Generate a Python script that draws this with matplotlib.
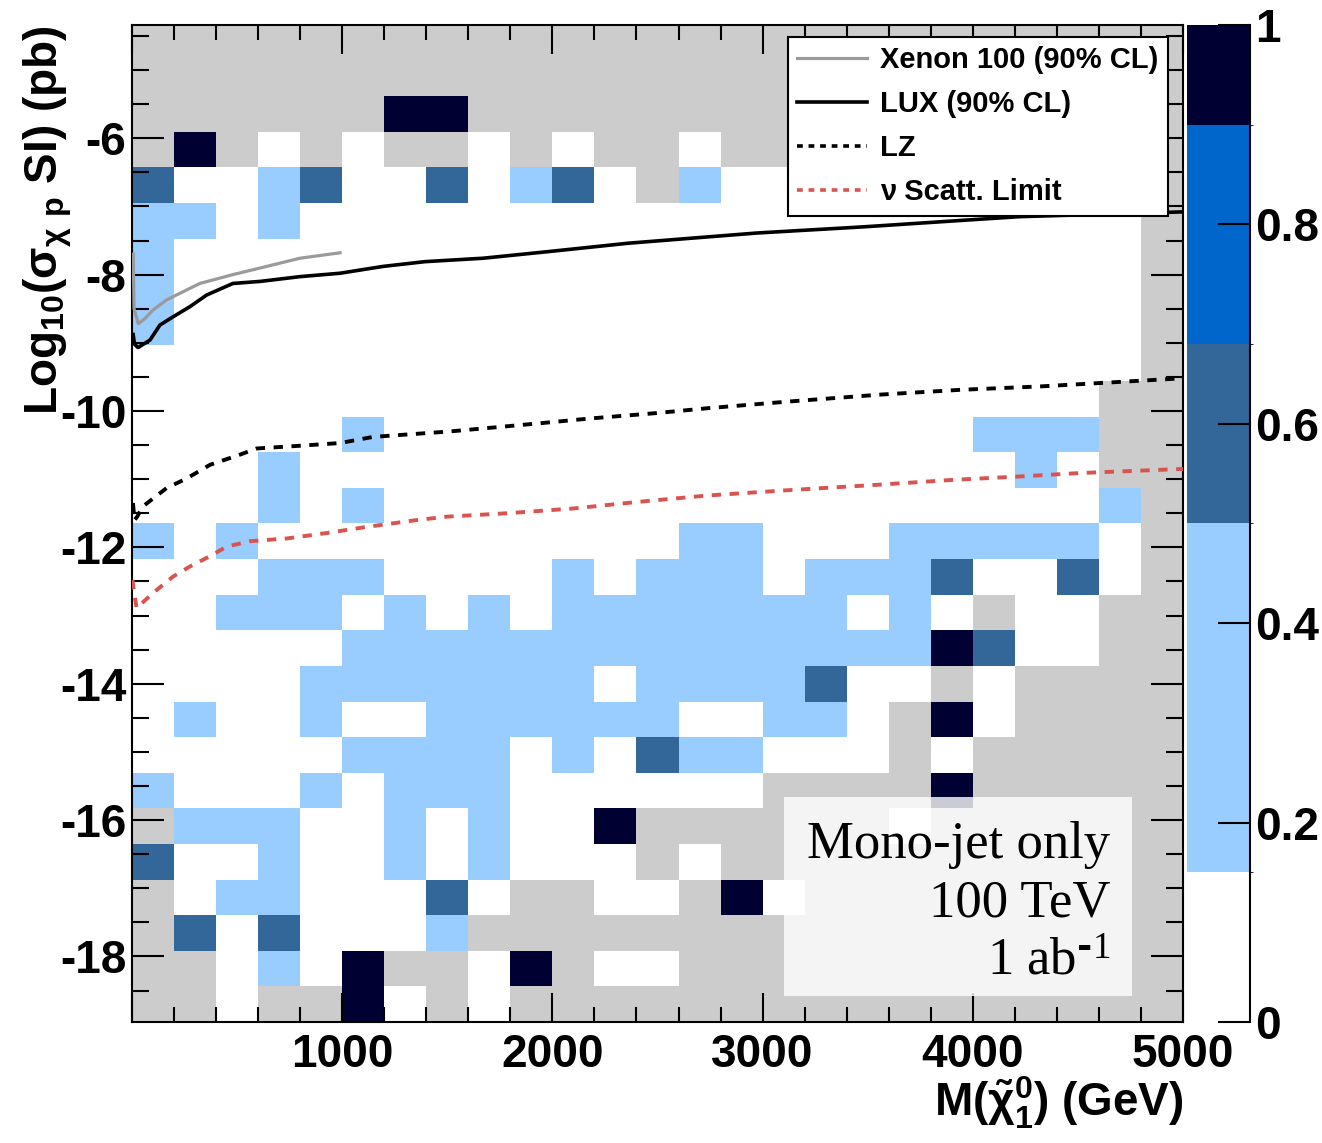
import numpy as np
import matplotlib
matplotlib.use("Agg")
import matplotlib.pyplot as plt
from matplotlib.colors import ListedColormap, BoundaryNorm
from matplotlib.lines import Line2D
from matplotlib.patches import Rectangle
from matplotlib.ticker import MultipleLocator, FuncFormatter

plt.rcParams["font.family"] = ["Liberation Sans", "DejaVu Sans"]
plt.rcParams["font.weight"] = "bold"
plt.rcParams["mathtext.default"] = "regular"
plt.rcParams["axes.unicode_minus"] = False

# ------------------------------------------------------------
# Data: fraction of points per cell (G = no point, grey)
# rows listed from top (high cross-section) to bottom
# ------------------------------------------------------------
mass_edges = np.linspace(0, 5000, 26)
xsec_edges = np.linspace(-18.96, -4.34, 29)

cell_rows = [
    "GGGGGGGGGGGGGGGGGGGGGGGGG",
    "GGGGGGGGGGGGGGGGGGGGGGGGG",
    "GGGGGGDDGGGGGGGGGGGGGGGGG",
    "GDGWGWGGWGWGGWGGGGGGGGGGG",
    "MWWLMWWMWLMWGLWWWWWWWWWWG",
    "LLWLWWWWWWWWWWWWWWWWWWWWG",
    "LWWWWWWWWWWWWWWWWWWWWWWWG",
    "LWWWWWWWWWWWWWWWWWWWWWWWG",
    "LWWWWWWWWWWWWWWWWWWWWWWWG",
    "WWWWWWWWWWWWWWWWWWWWWWWWG",
    "WWWWWWWWWWWWWWWWWWWWWWWGG",
    "WWWWWLWWWWWWWWWWWWWWLLLGG",
    "WWWLWWWWWWWWWWWWWWWWWLWGG",
    "WWWLWLWWWWWWWWWWWWWWWWWLG",
    "LWLWWWWWWWWWWLLWWWLLLLLWG",
    "WWWLLLWWWWLWLLLWLLLMWWMWG",
    "WWLLLWLWLWLLLLLLLWLWGWWGG",
    "WWWWWLLLLLLLLLLLLLLDMWWGG",
    "WWWWLLLLLLLWLLLLMWWGWGGGG",
    "WLWWLWWLLLLLLWWLLWGDWGGGG",
    "WWWWWLLLLWLWMLLWWWGWGGGGG",
    "LWWWLWLLLWWWWWWGGGGDGGGGG",
    "GLLLWWLWLWWDGGGGGGWGGGGGG",
    "MWWLWWLWLWWWGWGGGGGGGGGGG",
    "GWLLWWWMWGGWWGDWGGGGGGGGG",
    "GMWMWWWLGGGGGGGGGGGGGGGGG",
    "GGWLWDGGWDGWWGGGGGGGGGGGG",
    "GGWGGDWGWGGGGGGGGGGGGGGGG",
]
cell_value = {"W": 0.07, "L": 0.30, "M": 0.60, "B": 0.80, "D": 0.95}

level_bounds = [0.0, 0.15, 0.50, 0.68, 0.90, 1.0]
level_colors = ["#ffffff", "#99ccff", "#336699", "#0066cc", "#000033"]

# ------------------------------------------------------------
# Direct-detection limits: mass (GeV), log10(sigma_SI / pb)
# ------------------------------------------------------------
xenon_mass = [6, 10, 30, 60, 100, 165, 323, 480, 641, 799, 990]
xenon_xsec = [-7.70, -8.50, -8.72, -8.65, -8.52, -8.37, -8.13, -8.00, -7.88, -7.76, -7.68]

lux_mass = [6, 12, 29, 86, 133, 195, 276, 355, 480, 609, 799, 990, 1194, 1394,
            1670, 1989, 2360, 2645, 2973, 3478, 3972, 4224, 5000]
lux_xsec = [-8.88, -9.02, -9.07, -8.96, -8.74, -8.62, -8.47, -8.30, -8.13, -8.10,
            -8.03, -7.98, -7.88, -7.81, -7.76, -7.66, -7.54, -7.47, -7.39, -7.30,
            -7.20, -7.15, -7.08]

lz_mass = [5, 12, 25, 52, 165, 260, 371, 514, 593, 799, 990, 1147, 1513, 1941,
           2179, 2498, 2736, 3130, 3559, 3939, 4320, 4605, 5000]
lz_xsec = [-11.35, -11.60, -11.55, -11.40, -11.13, -10.99, -10.79, -10.64, -10.55,
           -10.51, -10.47, -10.38, -10.30, -10.18, -10.11, -10.03, -9.96, -9.86,
           -9.76, -9.69, -9.64, -9.59, -9.52]

nu_mass = [2, 22, 100, 195, 276, 371, 450, 561, 736, 926, 1117, 1354, 1497, 1783,
           2098, 2417, 2736, 3130, 3559, 3906, 4225, 4510, 5000]
nu_xsec = [-12.48, -12.89, -12.67, -12.43, -12.28, -12.13, -11.99, -11.91, -11.87,
           -11.79, -11.70, -11.60, -11.55, -11.50, -11.43, -11.33, -11.24, -11.16,
           -11.08, -11.01, -10.96, -10.91, -10.85]

# ------------------------------------------------------------
# Figure
# ------------------------------------------------------------
fig = plt.figure(figsize=(13.22, 11.43), dpi=100)
ax = fig.add_axes([0.0998, 0.1059, 0.7951, 0.8722])
cax = fig.add_axes([0.8981, 0.1059, 0.0474, 0.8722])

z = np.full((len(cell_rows), len(cell_rows[0])), np.nan)
for i, row in enumerate(cell_rows[::-1]):
    for j, code in enumerate(row):
        if code in cell_value:
            z[i, j] = cell_value[code]

cmap = ListedColormap(level_colors)
norm = BoundaryNorm(level_bounds, cmap.N)

ax.set_facecolor("#cccccc")
mesh = ax.pcolormesh(mass_edges, xsec_edges, np.ma.masked_invalid(z),
                     cmap=cmap, norm=norm, shading="flat",
                     edgecolors="face", linewidth=0)

ax.plot(xenon_mass, xenon_xsec, color="#9a9a9a", lw=2.3, zorder=3)
ax.plot(lux_mass, lux_xsec, color="black", lw=2.6, zorder=3)
ax.plot(lz_mass, lz_xsec, color="black", lw=2.8, ls=(0, (2.4, 2.2)), zorder=3)
ax.plot(nu_mass, nu_xsec, color="#d9534f", lw=2.8, ls=(0, (2.4, 2.2)), zorder=3)

ax.set_xlim(0, 5000)
ax.set_ylim(xsec_edges[0], xsec_edges[-1])

ax.xaxis.set_major_locator(MultipleLocator(1000))
ax.xaxis.set_minor_locator(MultipleLocator(200))
ax.yaxis.set_major_locator(MultipleLocator(2))
ax.yaxis.set_minor_locator(MultipleLocator(0.5))
ax.xaxis.set_major_formatter(FuncFormatter(lambda v, p: "" if v == 0 else f"{v:.0f}"))

ax.tick_params(which="both", direction="in", top=True, right=True,
               width=1.5, labelsize=33)
ax.tick_params(axis="x", which="major", length=21, pad=8)
ax.tick_params(axis="x", which="minor", length=10.5)
ax.tick_params(axis="y", which="major", length=23, pad=4)
ax.tick_params(axis="y", which="minor", length=12)
for s in ax.spines.values():
    s.set_linewidth(1.5)

ax.set_xlabel(r"M($\tilde{\chi}_{1}^{0}$) (GeV)", fontsize=33,
              fontweight="bold", loc="right", labelpad=-2)
ax.set_ylabel(r"Log$_{10}$(σ$_{χ\ p}$ SI) (pb)", fontsize=33,
              fontweight="bold", loc="top", labelpad=-10)

handles = [
    Line2D([], [], color="#9a9a9a", lw=2.3),
    Line2D([], [], color="black", lw=2.6),
    Line2D([], [], color="black", lw=2.6, ls=(0, (1.6, 1.6))),
    Line2D([], [], color="#d9534f", lw=2.6, ls=(0, (1.6, 1.6))),
]
labels = ["Xenon 100 (90% CL)", "LUX (90% CL)", "LZ", "ν Scatt. Limit"]
leg = ax.legend(handles, labels, loc="upper right", bbox_to_anchor=(0.9857, 0.988),
                fancybox=False, framealpha=1, edgecolor="black", borderaxespad=0,
                borderpad=0.32, labelspacing=0.55, handlelength=2.4,
                handletextpad=0.45, prop={"weight": "bold", "size": 21})
leg.get_frame().set_linewidth(1.5)
leg.set_zorder(10)

ax.add_patch(Rectangle((0.6204, 0.0261), 0.3308, 0.1996, transform=ax.transAxes,
                       facecolor="white", alpha=0.8, edgecolor="none", zorder=5))
for txt, yb in [("Mono-jet only", 0.1645), ("100 TeV", 0.1053),
                (r"1 ab$^{\text{-}1}$", 0.0471)]:
    ax.text(0.9305, yb, txt, transform=ax.transAxes, ha="right", va="baseline",
            fontsize=38, fontweight="normal", family="Liberation Serif", zorder=6)

cbar = fig.colorbar(mesh, cax=cax, spacing="proportional",
                    ticks=[0, 0.2, 0.4, 0.6, 0.8, 1.0])
cbar.ax.set_yticklabels(["0", "0.2", "0.4", "0.6", "0.8", "1"])
cbar.outline.set_visible(False)
cax.plot([1, 1], [0, 1], transform=cax.transAxes, color="black", lw=1.5, clip_on=False)
cax.tick_params(direction="in", length=23, width=1.5, labelsize=33, pad=4)

fig.savefig("out.png", dpi=100)
